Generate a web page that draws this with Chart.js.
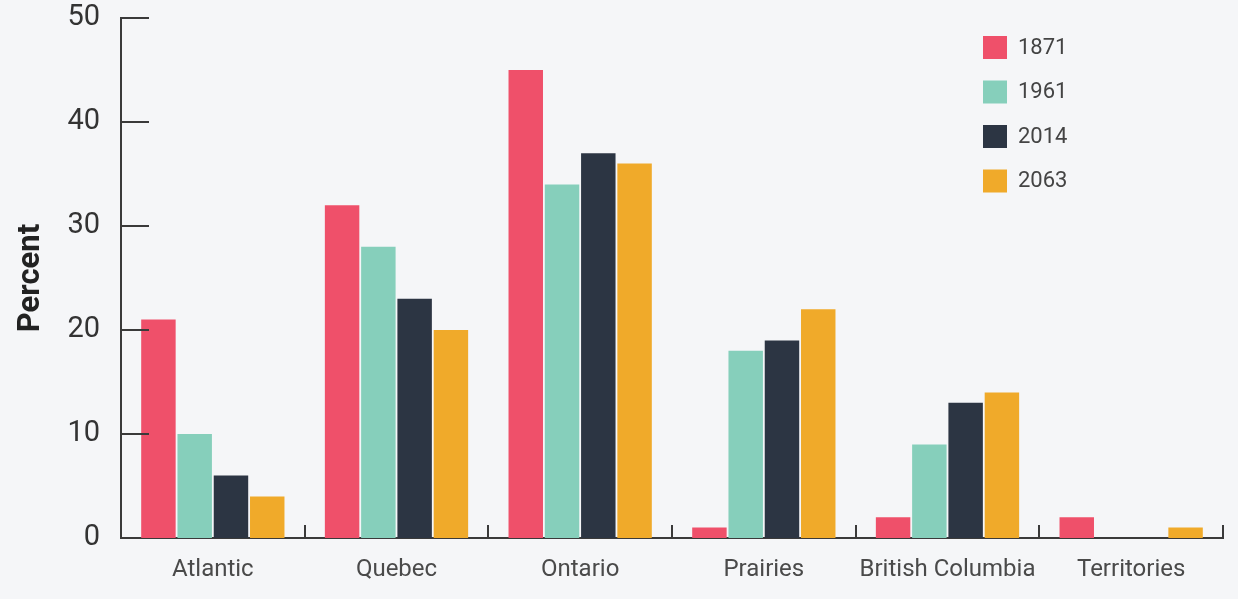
<!DOCTYPE html>
<html>
<head>
<meta charset="utf-8">
<script src="https://cdn.jsdelivr.net/npm/chart.js@4"></script>
<style>
  html, body { margin: 0; padding: 0; background: #f5f6f8; }
  #wrap { width: 1238px; height: 599px; }
</style>
</head>
<body>
<div id="wrap"><canvas id="regions"></canvas></div>
<script>
// share of population by region, percent
var regions = ['Atlantic', 'Quebec', 'Ontario', 'Prairies', 'British Columbia', 'Territories'];
var years = ['1871', '1961', '2014', '2063'];
var share1871 = [21, 32, 45, 1, 2, 2];
var share1961 = [10, 28, 34, 18, 9, 0];
var share2014 = [6, 23, 37, 19, 13, 0];
var share2063 = [4, 20, 36, 22, 14, 1];
var yTicks = [0, 10, 20, 30, 40, 50];

var colors = ['rgb(239, 80, 106)', 'rgb(134, 207, 187)', 'rgb(44, 53, 67)', 'rgb(240, 170, 42)'];
var axisColor = '#3a3a3a';

// short tick marks drawn inside the axes + legend box in the top right corner
var axisMarks = {
    id: 'axisMarks',
    afterDraw: function(chart) {
        var ctx = chart.ctx;
        var area = chart.chartArea;
        var x = chart.scales.x;
        var y = chart.scales.y;
        ctx.save();
        ctx.strokeStyle = axisColor;
        ctx.lineWidth = 2;
        ctx.beginPath();
        yTicks.forEach(function(v) {
            if (v === 0) return;
            var py = Math.round(y.getPixelForValue(v));
            ctx.moveTo(area.left, py);
            ctx.lineTo(area.left + 28, py);
        });
        var half = (x.getPixelForValue(1) - x.getPixelForValue(0)) / 2;
        for (var i = 0; i < regions.length; i++) {
            var px = Math.round(x.getPixelForValue(i) + half);
            ctx.moveTo(px, area.bottom);
            ctx.lineTo(px, area.bottom - 13);
        }
        ctx.stroke();

        // legend
        ctx.font = '22px Roboto';
        ctx.textBaseline = 'middle';
        ctx.textAlign = 'left';
        chart.data.datasets.forEach(function(ds, i) {
            var bx = area.right - 240;
            var by = 36 + i * 44.5;
            ctx.fillStyle = ds.backgroundColor;
            ctx.fillRect(bx, by, 24, 23);
            ctx.fillStyle = '#444';
            ctx.fillText(ds.label, bx + 35, by + 12);
        });
        ctx.restore();
    }
};

var ctx = document.getElementById('regions').getContext('2d');
var chart = new Chart(ctx, {
    type: 'bar',
    data: {
        labels: regions,
        datasets: [
            { label: years[0], data: share1871, backgroundColor: colors[0] },
            { label: years[1], data: share1961, backgroundColor: colors[1] },
            { label: years[2], data: share2014, backgroundColor: colors[2] },
            { label: years[3], data: share2063, backgroundColor: colors[3] }
        ]
    },
    options: {
        responsive: true,
        maintainAspectRatio: false,
        animation: false,
        datasets: {
            bar: { categoryPercentage: 0.79, barPercentage: 0.95 }
        },
        layout: { padding: { top: 0, right: 15, left: 0, bottom: 0 } },
        plugins: {
            legend: { display: false },
            tooltip: { enabled: false }
        },
        scales: {
            x: {
                grid: { display: false },
                border: { display: true, color: axisColor, width: 2 },
                ticks: {
                    color: '#4a4a4a',
                    font: { family: 'Roboto', size: 24 },
                    padding: 10,
                    maxRotation: 0,
                    autoSkip: false
                },
                afterFit: function(scale) { scale.height = 61; }
            },
            y: {
                min: 0,
                max: 50,
                grid: { display: false },
                border: { display: true, color: axisColor, width: 2 },
                ticks: {
                    stepSize: 10,
                    color: '#333',
                    font: { family: 'Roboto', size: 29 },
                    padding: 13
                },
                title: {
                    display: true,
                    text: 'Percent',
                    color: '#222',
                    font: { family: 'Roboto', size: 31, weight: 'bold' },
                    padding: { top: 13, bottom: 0 }
                },
                afterFit: function(scale) {
                    scale.width = 121;
                    scale.paddingTop = 18;
                    scale.paddingBottom = 0;
                }
            }
        }
    },
    plugins: [axisMarks]
});
</script>
</body>
</html>
